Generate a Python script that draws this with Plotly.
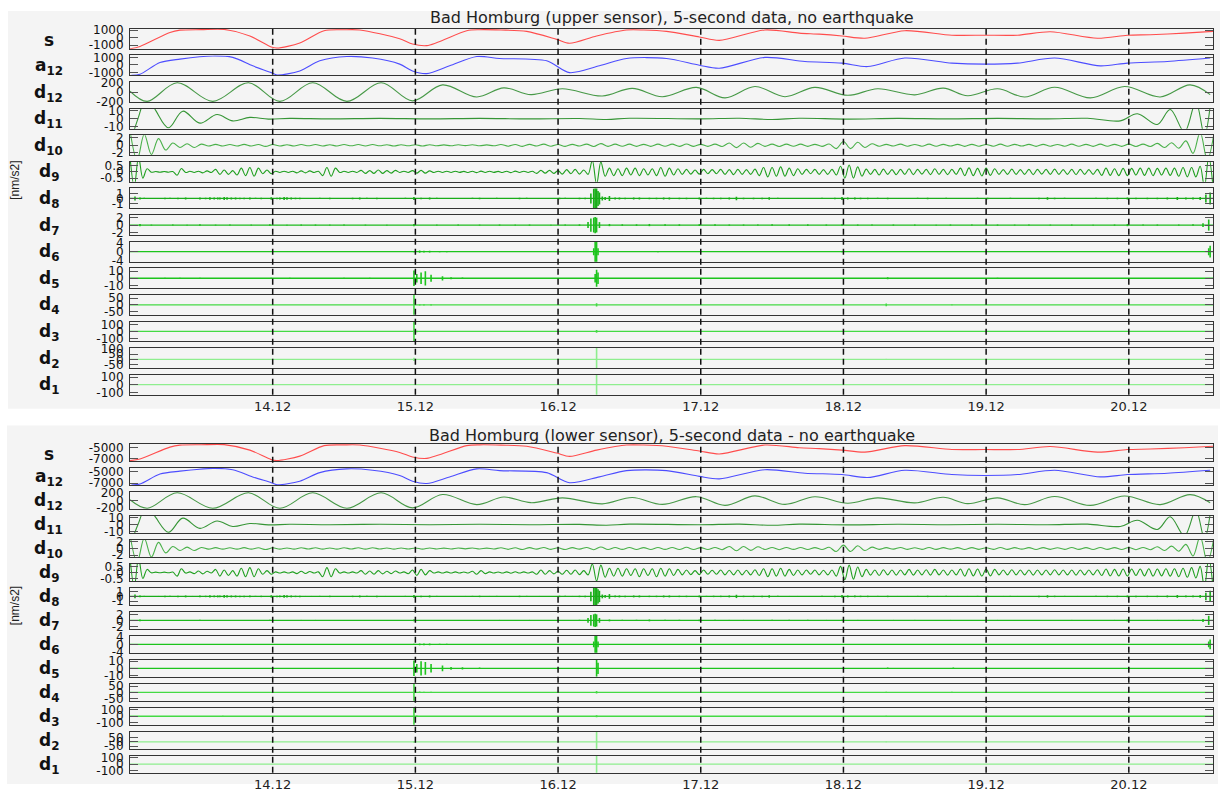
import numpy as np
import plotly.graph_objects as go

FIG_W, FIG_H = 1224, 792
X_START, X_END = 13.0, 20.59
DAY_TICKS = [14, 15, 16, 17, 18, 19, 20]
DAY_LABELS = ["14.12", "15.12", "16.12", "17.12", "18.12", "19.12", "20.12"]
ROW_LABELS = ["s", "a<sub>12</sub>", "d<sub>12</sub>", "d<sub>11</sub>", "d<sub>10</sub>", "d<sub>9</sub>",
              "d<sub>8</sub>", "d<sub>7</sub>", "d<sub>6</sub>", "d<sub>5</sub>", "d<sub>4</sub>",
              "d<sub>3</sub>", "d<sub>2</sub>", "d<sub>1</sub>"]
ROW_COLORS = ["#ff4d4d", "#4d4dff", "#479947", "#359535", "#49b049", "#1f9f1f", "#19ad19",
              "#1cba1c", "#1cc41c", "#1cc41c", "#44da44", "#44da44", "#8eee8e", "#8eee8e"]
UPPER_TITLE = "Bad Homburg (upper sensor), 5-second data, no earthquake"
LOWER_TITLE = "Bad Homburg (lower sensor), 5-second data - no earthquake"
UNIT_LABEL = "[nm/s2]"

U_TICKS = [[1000, 0, -1000], [1000, 0, -1000], [200, 0, -200], [10, 0, -10], [2, 0, -2], [0.5, 0, -0.5],
           [1, 0, -1], [2, 0, -2], [4, 0, -4], [10, 0, -10], [50, 0, -50], [100, 0, -100],
           [100, 50, 0, -50], [100, 0, -100]]
U_RANGES = [[-1500, 1150], [-1420, 1280], [-215, 215], [-12, 12], [-2.7, 2.7], [-0.8, 0.8], [-2, 2],
            [-2.7, 2.7], [-4.3, 4.3], [-14, 14], [-75, 75], [-145, 145], [-80, 105], [-130, 130]]
L_TICKS = [[-5000, -7000], [-5000, -7000], [200, 0, -200], [10, 0, -10], [2, 0, -2], [0.5, 0, -0.5],
           [1, 0, -1], [2, 0, -2], [4, 0, -4], [10, 0, -10], [50, 0, -50], [100, 0, -100],
           [50, 0, -50], [100, 0, -100]]
L_RANGES = [[-7390, -4320], [-7340, -4440], [-220, 220], [-12, 12], [-2.5, 2.5], [-0.7, 0.7], [-1.8, 1.8],
            [-2.8, 2.8], [-4.3, 4.3], [-12, 12], [-70, 70], [-130, 130], [-80, 120], [-130, 130]]

# ---------------- upper sensor ----------------
U_S_T = [13.00, 13.07, 13.28, 13.35, 13.50, 13.66, 13.84, 13.99, 14.03, 14.19, 14.36, 14.50, 14.61, 14.89,
         14.98, 15.08, 15.36, 15.45, 15.60, 15.78, 15.99, 16.08, 16.27, 16.48, 16.60, 16.76, 16.99, 17.13,
         17.45, 17.69, 17.83, 17.99, 18.15, 18.43, 18.76, 18.99, 19.22, 19.45, 19.78, 19.99, 20.15, 20.39,
         20.59]
U_S_V = [-1500, -1180, 680, 980, 1050, 1080, 215, -1270, -1410, -720, 910, 1030, 1010, -150,
         -860, -1080, 910, 1040, 1000, 820, -240, -760, 215, 1000, 1000, 820, 80, -380,
         1010, 590, 450, 215, -100, 910, 310, 310, 310, 770, -100, 310, 380, 590,
         820]

U_A12_T = [13.01, 13.07, 13.21, 13.35, 13.58, 13.72, 13.86, 13.99, 14.03, 14.19, 14.33, 14.52, 14.70, 14.89,
           14.98, 15.08, 15.24, 15.43, 15.59, 15.92, 16.08, 16.29, 16.48, 16.76, 16.99, 17.13, 17.45, 17.73,
           17.99, 18.17, 18.43, 18.76, 18.99, 19.22, 19.48, 19.80, 19.99, 20.27, 20.57]
U_A12_V = [-1400, -1260, 330, 790, 1220, 1020, -120, -1040, -1360, -810, 560, 1150, 930, 110,
           -810, -1170, -120, 1150, 880, 560, -1040, -120, 880, 880, -30, -440, 1020, 470,
           250, -220, 930, 250, 110, 250, 930, -120, 250, 470, 930]

U_D12_T = [13.00, 13.12, 13.33, 13.58, 13.83, 14.05, 14.28, 14.52, 14.76, 14.98, 15.19, 15.43, 15.62, 15.81,
           16.03, 16.31, 16.52, 16.73, 16.97, 17.17, 17.38, 17.59, 17.80, 18.03, 18.24, 18.50, 18.70, 18.87,
           19.08, 19.27, 19.48, 19.73, 19.97, 20.22, 20.43, 20.57]
U_D12_V = [20, -200, 200, -200, 200, -200, 200, -200, 200, -190, 155, -105, 90, -55,
           70, -85, 80, -100, 100, -125, 120, -100, 100, -70, 70, -60, 85, -80,
           70, -105, 105, -126, 119, -105, 154, -56]

U_D11_T = [13.00, 13.056, 13.12, 13.18, 13.27, 13.37, 13.49, 13.61, 13.72, 13.84, 13.97, 14.12, 14.40, 14.75,
           15.10, 15.45, 15.80, 16.15, 16.34, 16.50, 16.99, 17.27, 17.50, 17.69, 18.03, 18.38, 18.73, 19.08,
           19.43, 19.71, 19.94, 20.06, 20.20, 20.29, 20.39, 20.47, 20.53, 20.57]
U_D11_V = [-30, 0, 28, 10, -11, 9, -5.4, 5, -2.7, 1.5, -0.5, 0.3, -0.3, 0.3,
           -0.3, 0.3, -0.3, 0.2, -1, 0.5, -0.3, 0.5, -1, 0.5, -0.5, 0.3, -0.3, 0.3,
           -0.3, 0.5, -2.7, 6, -7, 11, -16, 20, -20, 15]

D10_STEP = 0.05
U_D10_V = [4, -4, 3, -2.5, 1.8, -1.3, 0.6, -0.6, 0.4, -0.6, 0.3,
           -0.2, 0.25, -0.2, 0.2, -0.2, 0.25, -0.2, 0.2, -0.3, 0.2, -0.2, 0.15, -0.2, 0.2, -0.15, 0.2, -0.2,
           0.15, -0.2, 0.2, -0.15, 0.2, -0.2, 0.2, -0.15, 0.15, -0.2,
           0.15, -0.15, 0.15, -0.2, 0.15, -0.15, 0.1, -0.15, 0.15, -0.1, 0.15, -0.15, 0.1, -0.15,
           0.2, -0.25, 0.2, -0.3, 0.25, -0.2, 0.3, -0.25, 0.2, -0.3, 0.25, -0.2, 0.3, -0.35,
           0.45, -0.3, 0.3, -0.25, 0.3, -0.3, 0.25, -0.3, 0.3, -0.25, 0.3, -0.3, 0.35, -0.3, 0.25, -0.3, 0.3, -0.35,
           0.6, -0.65, 0.6, -0.55, 0.5,
           -0.3, 0.3, -0.35, 0.3, -0.25, 0.3, -0.3, 0.25, -0.3, 0.35,
           -0.9, 1.0, -0.9, 0.8, -0.6, 0.4,
           -0.25, 0.25, -0.2, 0.3, -0.25, 0.2, -0.25, 0.3, -0.25, 0.25, -0.2, 0.25, -0.3, 0.25, -0.25, 0.2,
           -0.25, 0.3, -0.25, 0.25, -0.2, 0.25, -0.3, 0.25, -0.25, 0.2, -0.25, 0.3, -0.25, 0.25, -0.3, 0.3,
           -0.25, 0.25, -0.3, 0.3, -0.35, 0.3, -0.35,
           0.5, -0.6, 0.7, -0.8,
           1.2, -2.2, 3.5, -4, 4]

D9_STEP = 0.03
U_D9_V = [1.2, -1.2, 1.2, -0.5, 0.25,
          -0.03, 0.03, -0.03, 0.03, -0.03, 0.03,
          -0.27, 0.27,
          -0.05, 0.05, -0.05, 0.05,
          -0.08, 0.08, -0.05,
          0.2, -0.2, 0.15, -0.2, 0.1,
          -0.25, 0.3, -0.3, 0.35, -0.35, 0.3,
          -0.15, 0.15, -0.15,
          0.05, -0.05, 0.05, -0.05, 0.05,
          -0.08, 0.08, -0.08, 0.08,
          -0.05, 0.05,
          -0.3, 0.35, -0.35, 0.3,
          -0.05, 0.05, -0.05, 0.05, -0.05,
          0.12, -0.12, 0.1, -0.12, 0.15, -0.12, 0.1, -0.1, 0.12,
          -0.05, 0.05, -0.05, 0.1, -0.1, 0.12, -0.1, 0.08, -0.05, 0.05, -0.05, 0.05, -0.05, 0.05, -0.04, 0.04,
          -0.05, 0.05, -0.06, 0.06, -0.05, 0.05, -0.04, 0.04, -0.05, 0.05, -0.06, 0.06, -0.05, 0.05, -0.05, 0.05,
          -0.12, 0.12, -0.1, 0.12, -0.12, 0.1,
          -0.18, 0.18, -0.15, 0.2, -0.18, 0.15, -0.2,
          0.9, -1.0, 0.8,
          -0.35, 0.3, -0.3, 0.25, -0.3, 0.3, -0.25, 0.3, -0.3, 0.25, -0.25,
          0.25, -0.3, 0.35, -0.35, 0.3, -0.25, 0.25, -0.2, 0.2,
          -0.18, 0.15, -0.18, 0.2, -0.15, 0.18, -0.15,
          0.2, -0.2, 0.18, -0.22, 0.2, -0.2, 0.18, -0.2, 0.22,
          -0.3, 0.35, -0.4, 0.35, -0.35, 0.4, -0.35, 0.3, -0.3, 0.25,
          -0.2, 0.2, -0.15, 0.2, -0.2, 0.18, -0.2, 0.2, -0.25,
          0.45, -0.5, 0.55, -0.5, 0.4, -0.35,
          0.22, -0.2, 0.2, -0.25, 0.22, -0.2, 0.18, -0.22, 0.2, -0.2, 0.25, -0.22, 0.2, -0.18, 0.2, -0.22,
          0.25, -0.2, 0.2, -0.22, 0.2, -0.2,
          0.3, -0.3, 0.32, -0.3, 0.28, -0.32, 0.3, -0.28, 0.25,
          -0.2, 0.18, -0.2, 0.22, -0.2, 0.18, -0.2, 0.2, -0.22, 0.2, -0.18, 0.2, -0.2, 0.22, -0.2, 0.18,
          -0.2, 0.2, -0.22, 0.2, -0.2, 0.18, -0.2, 0.2,
          -0.28, 0.3, -0.28, 0.25, -0.3, 0.28, -0.3, 0.28, -0.25, 0.3, -0.28, 0.3, -0.3, 0.28, -0.25, 0.3,
          -0.28, 0.3,
          -0.35, 0.35, -0.4, 0.35, -0.4, 0.45,
          -1.2, 1.2, -1.2]

BASE_T = [X_START, X_END]
BASE_V = [0, 0]

U_D8_SPK_T = [13.035, 13.07, 13.10, 13.14, 13.20, 13.245, 13.28, 13.336, 13.39, 13.44, 13.49, 13.53, 13.56,
              13.59, 13.615, 13.63, 13.66, 13.68, 13.71, 13.74, 13.77, 13.80, 13.84, 13.88, 13.92, 13.99,
              14.03, 14.05, 14.08, 14.10, 14.13, 14.16, 14.19, 14.23, 14.27, 14.33, 14.40, 14.45, 14.50,
              14.56, 14.61, 14.66, 14.73, 14.79, 14.85, 14.93, 14.99, 15.04, 15.10, 15.15, 15.20, 15.27,
              15.35, 15.40, 15.45, 15.52, 15.57, 15.62, 15.67, 15.73, 15.78, 15.87, 15.93, 16.01, 16.05,
              16.10, 16.15, 16.19, 16.23, 16.25, 16.26, 16.27, 16.28, 16.29, 16.31, 16.33, 16.36, 16.40,
              16.43, 16.47, 16.53, 16.57, 16.64, 16.69, 16.74, 16.78, 16.85, 16.90, 16.99, 17.04, 17.09,
              17.14, 17.20, 17.25, 17.30, 17.37, 17.43, 17.48, 17.54, 17.62, 17.68, 17.76, 17.85, 17.94,
              17.99, 18.03, 18.08, 18.12, 18.17, 18.24, 18.31, 18.38, 18.45, 18.52, 18.59, 18.66, 18.72,
              18.80, 18.87, 18.94, 19.01, 19.12, 19.17, 19.22, 19.30, 19.37, 19.43, 19.48, 19.55, 19.64,
              19.70, 19.77, 19.85, 19.92, 19.99, 20.05, 20.13, 20.20, 20.27, 20.34, 20.40, 20.45, 20.50,
              20.54, 20.57]
U_D8_SPK_A = [0.4, 0.2, 0.12, 0.1, 0.1, 0.15, 0.12, 0.15, 0.2, 0.1, 0.2, 0.15, 0.25,
              0.2, 0.2, 0.2, 0.3, 0.25, 0.2, 0.2, 0.15, 0.15, 0.2, 0.12, 0.15, 0.25,
              0.15, 0.2, 0.3, 0.25, 0.2, 0.15, 0.15, 0.1, 0.1, 0.12, 0.15, 0.1, 0.1,
              0.15, 0.2, 0.12, 0.15, 0.1, 0.1, 0.12, 0.3, 0.15, 0.2, 0.12, 0.1, 0.1,
              0.1, 0.12, 0.15, 0.1, 0.12, 0.1, 0.1, 0.15, 0.12, 0.1, 0.1, 0.15, 0.12,
              0.1, 0.15, 0.15, 1.0, 2.0, 2.2, 2.2, 1.5, 1.2, 0.4, 0.3, 0.5, 0.2,
              0.2, 0.15, 0.2, 0.2, 0.15, 0.15, 0.2, 0.2, 0.15, 0.15, 0.2, 0.12, 0.15,
              0.15, 0.2, 0.35, 0.15, 0.15, 0.15, 0.25, 0.12, 0.1, 0.1, 0.1, 0.12, 0.15,
              0.3, 0.2, 0.2, 0.15, 0.15, 0.12, 0.15, 0.1, 0.1, 0.12, 0.15, 0.1, 0.12,
              0.1, 0.1, 0.12, 0.15, 0.1, 0.12, 0.1, 0.1, 0.15, 0.25, 0.15, 0.12, 0.1,
              0.1, 0.12, 0.15, 0.15, 0.2, 0.15, 0.15, 0.15, 0.2, 0.3, 0.2, 0.2, 0.3,
              0.8, 1.2]

U_D7_SPK_T = [13.07, 13.15, 13.30, 13.40, 13.49, 13.60, 13.70, 13.85, 13.98, 14.10, 14.20, 14.30, 14.40,
              14.50, 14.65, 14.80, 14.99, 15.15, 15.30, 15.45, 15.59, 15.70, 15.80, 15.95, 16.05, 16.15,
              16.21, 16.23, 16.25, 16.26, 16.27, 16.29, 16.36, 16.45, 16.55, 16.64, 16.75, 16.85, 16.99,
              17.10, 17.20, 17.30, 17.40, 17.50, 17.62, 17.75, 17.88, 17.99, 18.10, 18.20, 18.35, 18.50,
              18.65, 18.75, 18.90, 19.08, 19.20, 19.30, 19.45, 19.60, 19.75, 19.90, 19.99, 20.10, 20.20,
              20.35, 20.45, 20.52, 20.56]
U_D7_SPK_A = [0.3, 0.12, 0.15, 0.12, 0.2, 0.12, 0.15, 0.12, 0.2, 0.12, 0.15, 0.15, 0.12,
              0.15, 0.12, 0.12, 0.3, 0.12, 0.15, 0.12, 0.15, 0.12, 0.15, 0.12, 0.15, 0.2,
              0.8, 1.8, 2.0, 2.2, 2.0, 0.8, 0.3, 0.2, 0.2, 0.3, 0.2, 0.2, 0.25,
              0.2, 0.15, 0.15, 0.15, 0.2, 0.2, 0.2, 0.15, 0.2, 0.15, 0.15, 0.15, 0.15,
              0.12, 0.15, 0.15, 0.15, 0.12, 0.15, 0.12, 0.15, 0.12, 0.15, 0.3, 0.15, 0.15,
              0.15, 0.2, 0.5, 1.5]

U_D6_SPK_T = [13.30, 13.70, 14.10, 14.99, 15.03, 15.06, 15.10, 15.17, 15.22, 15.60, 16.25, 16.26, 16.27,
              16.28, 16.70, 17.30, 17.99, 18.60, 19.30, 19.99, 20.56, 20.57]
U_D6_SPK_A = [0.15, 0.15, 0.15, 0.3, 0.5, 0.4, 0.4, 0.3, 0.3, 0.15, 1.5, 4.5, 4.5,
              1.5, 0.2, 0.15, 0.2, 0.15, 0.15, 0.15, 1.5, 2.5]

U_D5_SPK_T = [13.245, 13.35, 13.49, 13.99, 14.12, 14.50, 14.68, 14.99, 15.01, 15.04, 15.07, 15.11, 15.19,
              15.25, 15.33, 16.26, 16.27, 16.28, 18.31, 19.08]
U_D5_SPK_A = [0.8, 0.8, 0.8, 0.8, 0.8, 0.8, 0.8, 11, 6, 8, 10, 5, 3,
              1.5, 1, 6, 12, 8, 1.5, 0.6]

U_D4_SPK_T = [14.99, 15.03, 15.06, 15.11, 16.27, 18.30, 18.76]
U_D4_SPK_A = [80, 5, 5, 4, 12, 10, 3]

U_D3_SPK_T = [13.66, 14.99, 15.01, 15.06, 16.27, 18.30]
U_D3_SPK_A = [8, 150, 10, 5, 20, 6]

U_D2_SPK_T = [14.99, 16.27, 18.30]
U_D2_SPK_A = [15, 150, 5]

U_D1_SPK_T = [14.99, 16.27]
U_D1_SPK_A = [5, 150]

# ---------------- lower sensor ----------------
L_S_T = [13.00, 13.07, 13.28, 13.35, 13.50, 13.66, 13.84, 13.99, 14.03, 14.19, 14.36, 14.50, 14.61, 14.89,
         14.98, 15.08, 15.36, 15.45, 15.60, 15.78, 15.99, 16.08, 16.27, 16.48, 16.60, 16.76, 16.99, 17.13,
         17.45, 17.69, 17.83, 17.99, 18.15, 18.43, 18.76, 18.99, 19.22, 19.45, 19.78, 19.99, 20.15, 20.39,
         20.59]
L_S_V = [-7300, -7019, -4864, -4510, -4440, -4410, -5403, -7123, -7286, -6487, -4598, -4460, -4482, -5827,
         -6647, -6904, -4598, -4450, -4500, -4704, -5932, -6535, -5403, -4490, -4490, -4704, -5560, -6092,
         -4482, -4968, -5131, -5403, -5769, -4598, -5293, -5293, -5293, -4759, -5769, -5293, -5213, -4968,
         -4704]

L_A12_T = [13.01, 13.07, 13.21, 13.35, 13.58, 13.72, 13.86, 13.99, 14.03, 14.19, 14.33, 14.52, 14.70, 14.89,
           14.98, 15.08, 15.24, 15.43, 15.59, 15.92, 16.08, 16.29, 16.48, 16.76, 16.99, 17.13, 17.45, 17.73,
           17.99, 18.17, 18.43, 18.76, 18.99, 19.22, 19.48, 19.80, 19.99, 20.27, 20.57]
L_A12_V = [-7319, -7169, -5461, -4965, -4500, -4719, -5945, -6931, -7276, -6685, -5214, -4580, -4817, -5697,
           -6685, -7071, -5945, -4580, -4869, -5214, -6931, -5945, -4869, -4869, -5847, -6287, -4719, -5310,
           -5546, -6052, -4817, -5546, -5697, -5546, -4817, -5945, -5546, -5310, -4817]

L_D9_V = [1.2, -1.2, 1.2, -0.5, 0.25,
          -0.03, 0.03, -0.03, 0.03, -0.03, 0.03,
          -0.3, 0.3,
          -0.05, 0.05, -0.1, 0.12,
          -0.12, 0.1, -0.05,
          0.25, -0.3, 0.2, -0.25, 0.15,
          -0.3, 0.35, -0.35, 0.4, -0.35, 0.3,
          -0.15, 0.15, -0.15,
          0.05, -0.05, 0.05, -0.05, 0.05,
          -0.1, 0.1, -0.08, 0.08,
          -0.05, 0.05,
          -0.35, 0.4, -0.35, 0.3,
          -0.05, 0.05, -0.05, 0.05, -0.05,
          0.15, -0.15, 0.12, -0.15, 0.15, -0.12, 0.1, -0.1, 0.12,
          -0.05, 0.05, -0.1, 0.2, -0.25, 0.25, -0.2, 0.15, -0.05, 0.05, -0.05, 0.05, -0.05, 0.05, -0.04, 0.04,
          -0.05, 0.1, -0.15, 0.15, -0.1, 0.05, -0.04, 0.04, -0.05, 0.05, -0.06, 0.06, -0.05, 0.05, -0.05, 0.05,
          -0.15, 0.2, -0.15, 0.15, -0.12, 0.1,
          -0.15, 0.18, -0.15, 0.2, -0.18, 0.15, -0.2,
          0.7, -0.7, 0.6,
          -0.4, 0.35, -0.3, 0.35, -0.3, 0.3, -0.25, 0.3, -0.35, 0.3, -0.25,
          0.3, -0.35, 0.35, -0.3, 0.3, -0.25, 0.25, -0.2, 0.2,
          -0.18, 0.15, -0.18, 0.2, -0.15, 0.18, -0.15,
          0.2, -0.2, 0.18, -0.2, 0.2, -0.2, 0.18, -0.2, 0.22,
          -0.25, 0.3, -0.35, 0.3, -0.3, 0.35, -0.3, 0.25, -0.25, 0.2,
          -0.2, 0.2, -0.15, 0.2, -0.2, 0.18, -0.2, 0.2, -0.3,
          0.5, -0.6, 0.6, -0.55, 0.45, -0.35,
          0.25, -0.22, 0.2, -0.25, 0.22, -0.2, 0.2, -0.22, 0.2, -0.2, 0.25, -0.22, 0.2, -0.2, 0.22, -0.22,
          0.25, -0.2, 0.2, -0.22, 0.2, -0.2,
          0.28, -0.3, 0.3, -0.28, 0.28, -0.3, 0.28, -0.28, 0.25,
          -0.2, 0.2, -0.2, 0.22, -0.2, 0.2, -0.2, 0.2, -0.22, 0.2, -0.2, 0.2, -0.2, 0.22, -0.2, 0.2,
          -0.2, 0.2, -0.22, 0.2, -0.2, 0.2, -0.2, 0.22,
          -0.25, 0.28, -0.28, 0.25, -0.28, 0.28, -0.3, 0.28, -0.25, 0.28, -0.28, 0.3, -0.3, 0.28, -0.28, 0.3,
          -0.3, 0.3,
          -0.35, 0.35, -0.4, 0.4, -0.45, 0.5,
          -1.2, 1.2, -1.2]

L_D5_SPK_T = [13.35, 13.99, 14.50, 14.99, 15.01, 15.04, 15.07, 15.11, 15.19, 15.25, 15.33, 15.45, 16.27, 16.28,
              18.31, 18.77]
L_D5_SPK_A = [0.6, 0.6, 0.6, 11, 6, 10, 9, 6, 4, 2, 1.5, 1, 12, 8, 1, 1]

L_D4_SPK_T = [13.51, 13.65, 13.72, 14.26, 14.62, 14.73, 14.99, 15.03, 15.06, 15.11, 16.27, 18.30, 18.37,
              18.76, 19.16, 19.86, 19.99, 20.10, 20.25, 20.40]
L_D4_SPK_A = [3, 3, 3, 3, 3, 3, 80, 6, 5, 4, 10, 5, 3, 4, 2, 3, 3, 3, 3, 3]

L_D3_SPK_T = [13.65, 14.26, 14.99, 15.01, 16.27, 18.30, 18.76]
L_D3_SPK_A = [6, 5, 150, 10, 15, 6, 4]

L_D2_SPK_T = [14.99, 16.27, 18.30]
L_D2_SPK_A = [10, 150, 5]

L_D1_SPK_T = [16.27]
L_D1_SPK_A = [150]

U_ROWS = [
    ("line", U_S_T, U_S_V), ("line", U_A12_T, U_A12_V), ("line", U_D12_T, U_D12_V),
    ("line", U_D11_T, U_D11_V), ("grid", D10_STEP, U_D10_V), ("grid", D9_STEP, U_D9_V),
    ("spikes", U_D8_SPK_T, U_D8_SPK_A), ("spikes", U_D7_SPK_T, U_D7_SPK_A), ("spikes", U_D6_SPK_T, U_D6_SPK_A),
    ("spikes", U_D5_SPK_T, U_D5_SPK_A), ("spikes", U_D4_SPK_T, U_D4_SPK_A), ("spikes", U_D3_SPK_T, U_D3_SPK_A),
    ("spikes", U_D2_SPK_T, U_D2_SPK_A), ("spikes", U_D1_SPK_T, U_D1_SPK_A),
]
L_ROWS = [
    ("line", L_S_T, L_S_V), ("line", L_A12_T, L_A12_V), ("line", U_D12_T, U_D12_V),
    ("line", U_D11_T, U_D11_V), ("grid", D10_STEP, U_D10_V), ("grid", D9_STEP, L_D9_V),
    ("spikes", U_D8_SPK_T, U_D8_SPK_A), ("spikes", U_D7_SPK_T, U_D7_SPK_A), ("spikes", U_D6_SPK_T, U_D6_SPK_A),
    ("spikes", L_D5_SPK_T, L_D5_SPK_A), ("spikes", L_D4_SPK_T, L_D4_SPK_A), ("spikes", L_D3_SPK_T, L_D3_SPK_A),
    ("spikes", L_D2_SPK_T, L_D2_SPK_A), ("spikes", L_D1_SPK_T, L_D1_SPK_A),
]

PANELS = [
    dict(title=UPPER_TITLE, title_y=12, top=23.3, pitch=27.08, height=20.3, ticks=U_TICKS,
         ranges=U_RANGES, rows=U_ROWS, bg=(8, 5, 1220, 410), unit_y=178),
    dict(title=LOWER_TITLE, title_y=437, top=446.0, pitch=24.4, height=17.3, ticks=L_TICKS,
         ranges=L_RANGES, rows=L_ROWS, bg=(7, 427, 1218, 792), unit_y=611),
]
PLOT_LEFT, PLOT_RIGHT = 130, 1213
LABEL_X = 49
BG = "#f4f4f4"
FONT = "DejaVu Sans"


def yp(px):
    return 1 - px / FIG_H


def fmt(v):
    return "%g" % v


fig = go.Figure()
layout = dict(width=FIG_W, height=FIG_H, margin=dict(l=0, r=0, t=0, b=0), paper_bgcolor="white",
              plot_bgcolor=BG, showlegend=False, hovermode=False)
shapes, annotations = [], []

k = 0
for p in PANELS:
    x0, y0, x1, y1 = p["bg"]
    shapes.append(dict(type="rect", xref="paper", yref="paper", x0=x0 / FIG_W, x1=x1 / FIG_W,
                       y0=yp(y1), y1=yp(y0), fillcolor=BG, line=dict(width=0), layer="below"))
    annotations.append(dict(text=p["title"], xref="paper", yref="paper",
                            x=(PLOT_LEFT + PLOT_RIGHT) / 2 / FIG_W, y=yp(p["title_y"]),
                            xanchor="center", yanchor="middle", showarrow=False,
                            font=dict(family=FONT, size=16, color="#222")))
    annotations.append(dict(text=UNIT_LABEL, xref="paper", yref="paper", x=15 / FIG_W, y=yp(p["unit_y"]),
                            xanchor="center", yanchor="middle", showarrow=False, textangle=-90,
                            font=dict(family="Liberation Sans", size=12, color="#222")))
    first_k = k + 1
    for r in range(14):
        k += 1
        xa = "xaxis" if k == 1 else "xaxis%d" % k
        ya = "yaxis" if k == 1 else "yaxis%d" % k
        xr = "x" if k == 1 else "x%d" % k
        yr = "y" if k == 1 else "y%d" % k
        top = p["top"] + r * p["pitch"]
        bot = top + p["height"]
        last = (r == 13)
        layout[xa] = dict(domain=[PLOT_LEFT / FIG_W, PLOT_RIGHT / FIG_W], anchor=yr, range=[X_START, X_END],
                          showline=True, mirror=True, linecolor="#333", linewidth=1, showgrid=False,
                          zeroline=False, ticks="", tickvals=DAY_TICKS, ticktext=DAY_LABELS,
                          showticklabels=last, tickfont=dict(family=FONT, size=13, color="#222"))
        tv = p["ticks"][r]
        layout[ya] = dict(domain=[yp(bot), yp(top)], anchor=xr, range=p["ranges"][r],
                          showline=True, mirror="ticks", linecolor="#333", linewidth=1, showgrid=False,
                          zeroline=False, ticks="inside", ticklen=8, tickcolor="#555", tickwidth=1,
                          tickvals=tv, ticktext=[fmt(v) for v in tv], ticklabelstandoff=3,
                          tickfont=dict(family=FONT, size=12, color="#111"))
        annotations.append(dict(text="<b>%s</b>" % ROW_LABELS[r], xref="paper", yref="paper",
                                x=LABEL_X / FIG_W, y=yp((top + bot) / 2 + 1), xanchor="center",
                                yanchor="middle", showarrow=False,
                                font=dict(family=FONT, size=17, color="#111")))
        col = ROW_COLORS[r]
        kind, a, b = p["rows"][r]
        smooth = 0.8 if r < 2 else 1.0
        if kind == "line":
            fig.add_trace(go.Scatter(x=a, y=b, mode="lines", xaxis=xr, yaxis=yr, hoverinfo="skip",
                                     line=dict(color=col, width=1.1, shape="spline", smoothing=smooth)))
        elif kind == "grid":
            t = X_START + a * np.arange(len(b))
            fig.add_trace(go.Scatter(x=t, y=b, mode="lines", xaxis=xr, yaxis=yr, hoverinfo="skip",
                                     line=dict(color=col, width=1.1, shape="spline")))
        else:
            fig.add_trace(go.Scatter(x=BASE_T, y=BASE_V, mode="lines", xaxis=xr, yaxis=yr, hoverinfo="skip",
                                     line=dict(color=col, width=1.3)))
            xs, ys = [], []
            for tt, aa in zip(a, b):
                xs += [tt, tt, None]
                ys += [aa, -aa, None]
            fig.add_trace(go.Scatter(x=xs, y=ys, mode="lines", xaxis=xr, yaxis=yr, hoverinfo="skip",
                                     line=dict(color=col, width=1.6)))
    ptop = p["top"]
    pbot = p["top"] + 13 * p["pitch"] + p["height"]
    xref0 = "x" if first_k == 1 else "x%d" % first_k
    for d in DAY_TICKS:
        shapes.append(dict(type="line", xref=xref0, yref="paper", x0=d, x1=d, y0=yp(pbot), y1=yp(ptop),
                           line=dict(color="#111", width=1.5, dash="6px,4px")))

layout["shapes"] = shapes
layout["annotations"] = annotations
fig.update_layout(**layout)
fig.write_html("out.html")
